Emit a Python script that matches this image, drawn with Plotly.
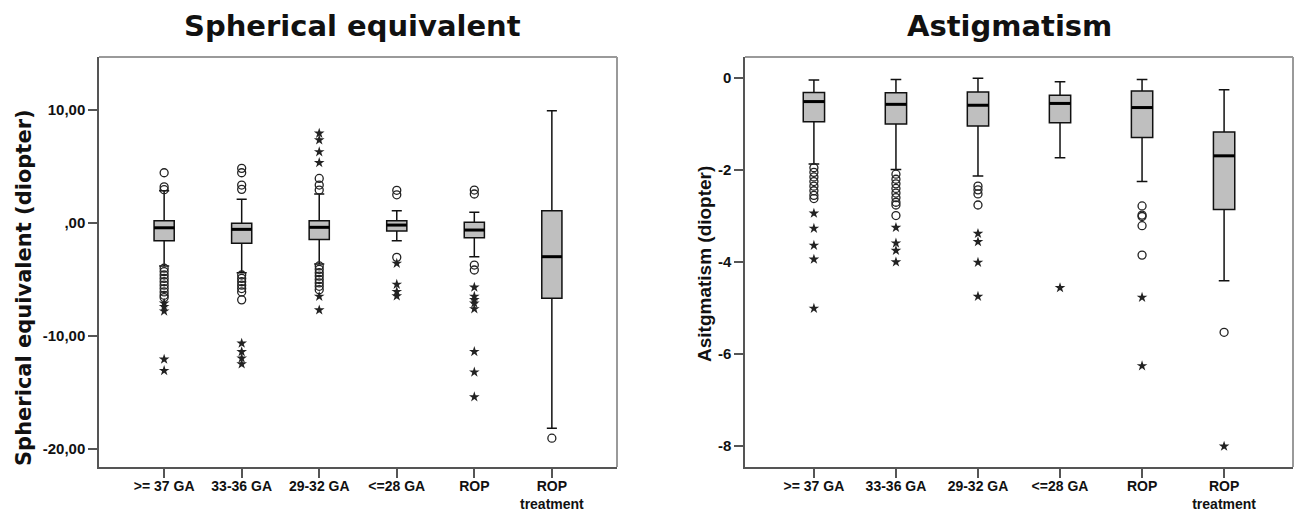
import plotly.graph_objects as go

# Group labels shared by both panels
groups = [">= 37 GA", "33-36 GA", "29-32 GA", "<=28 GA", "ROP", "ROP<br>treatment"]

# Spherical equivalent (diopter): box statistics per group
se_q1 = [-1.57, -1.80, -1.45, -0.71, -1.30, -6.67]
se_median = [-0.42, -0.56, -0.38, -0.18, -0.62, -2.98]
se_q3 = [0.20, -0.03, 0.20, 0.20, 0.06, 1.09]
se_low = [-3.80, -4.40, -3.63, -1.57, -2.98, -18.17]
se_high = [2.86, 2.10, 2.57, 1.09, 0.95, 9.94]

# Spherical equivalent outliers (circles) and extremes (stars) per group
se_outliers = [
    [4.45, 3.20, 2.95, -4.0, -4.3, -4.6, -4.9, -5.2, -5.5, -5.8, -6.1, -6.4, -6.6],
    [4.84, 4.45, 3.36, 2.98, -4.6, -4.9, -5.2, -5.5, -5.8, -6.1, -6.8],
    [3.95, 3.36, 2.92, -3.8, -4.1, -4.4, -4.7, -5.0, -5.3, -5.6, -5.9],
    [2.90, 2.50, -3.04],
    [2.92, 2.57, -3.72, -4.16],
    [-19.05],
]
se_extremes = [
    [-7.1, -7.4, -7.8, -12.06, -13.07],
    [-10.65, -11.40, -11.97, -12.48],
    [7.94, 7.35, 6.30, 5.34, -6.5, -7.7],
    [-3.57, -5.43, -6.08, -6.46],
    [-5.69, -6.5, -6.8, -7.1, -7.6, -11.39, -13.2, -15.4],
    [],
]

# Astigmatism (diopter): box statistics per group
as_q1 = [-0.95, -1.00, -1.04, -0.97, -1.29, -2.86]
as_median = [-0.51, -0.57, -0.59, -0.55, -0.64, -1.69]
as_q3 = [-0.31, -0.32, -0.30, -0.37, -0.28, -1.17]
as_low = [-1.87, -1.99, -2.13, -1.73, -2.25, -4.41]
as_high = [-0.04, -0.03, 0.0, -0.08, -0.03, -0.25]

as_outliers = [
    [-1.95, -2.05, -2.15, -2.25, -2.35, -2.45, -2.55, -2.62],
    [-2.09, -2.20, -2.30, -2.40, -2.50, -2.60, -2.70, -2.76, -2.99],
    [-2.35, -2.43, -2.52, -2.76],
    [],
    [-2.78, -2.98, -3.01, -3.21, -3.85],
    [-5.53],
]
as_extremes = [
    [-2.94, -3.27, -3.64, -3.94, -5.01],
    [-3.25, -3.59, -3.75, -4.00],
    [-3.38, -3.56, -4.01, -4.75],
    [-4.56],
    [-4.77, -6.26],
    [-8.01],
]

BOX_W = 0.26
FILL = "#bfbfbf"
pos = list(range(len(groups)))

fig = go.Figure()


def add_panel(q1, med, q3, lo, hi, outliers, extremes, xa, ya):
    fig.add_trace(go.Box(
        x=pos, q1=q1, median=med, q3=q3, lowerfence=lo, upperfence=hi,
        width=BOX_W, whiskerwidth=0.5, boxpoints=False,
        fillcolor=FILL, line=dict(color="#111111", width=1.5),
        xaxis=xa, yaxis=ya, showlegend=False, hoverinfo="skip",
    ))
    # thick median bars
    mx, my = [], []
    for i, m in zip(pos, med):
        mx += [i - BOX_W / 2, i + BOX_W / 2, None]
        my += [m, m, None]
    fig.add_trace(go.Scatter(
        x=mx, y=my, mode="lines", line=dict(color="#000000", width=3),
        xaxis=xa, yaxis=ya, showlegend=False, hoverinfo="skip",
    ))
    ox, oy = [], []
    for i, vals in zip(pos, outliers):
        ox += [i] * len(vals)
        oy += vals
    fig.add_trace(go.Scatter(
        x=ox, y=oy, mode="markers",
        marker=dict(symbol="circle-open", size=8, color="#222222",
                    line=dict(width=1.3, color="#222222")),
        xaxis=xa, yaxis=ya, showlegend=False, hoverinfo="skip",
    ))
    ex, ey = [], []
    for i, vals in zip(pos, extremes):
        ex += [i] * len(vals)
        ey += vals
    fig.add_trace(go.Scatter(
        x=ex, y=ey, mode="markers",
        marker=dict(symbol="star", size=8, color="#222222", line=dict(width=0)),
        xaxis=xa, yaxis=ya, showlegend=False, hoverinfo="skip",
    ))


add_panel(se_q1, se_median, se_q3, se_low, se_high, se_outliers, se_extremes, "x", "y")
add_panel(as_q1, as_median, as_q3, as_low, as_high, as_outliers, as_extremes, "x2", "y2")

W, H = 1295, 512
y_dom = [1 - 467 / H, 1 - 57 / H]
axis_font = dict(family="Liberation Sans, Arial, sans-serif", size=15, color="#111111", weight="bold")
xtick_font = dict(family="Liberation Sans, Arial, sans-serif", size=14, color="#111111", weight="bold")
common_x = dict(
    range=[-0.84, 5.84], tickmode="array", tickvals=pos, ticktext=groups,
    showline=True, linecolor="#555555", linewidth=1.5, ticks="outside",
    ticklen=9, tickcolor="#555555", tickwidth=1.5, showgrid=False, zeroline=False,
    tickfont=xtick_font, fixedrange=True, ticklabelstandoff=-4, automargin=False,
)
common_y = dict(
    showline=True, linecolor="#555555", linewidth=1.5, ticks="outside",
    ticklen=9, tickcolor="#555555", tickwidth=1.5, showgrid=False, zeroline=False,
    tickfont=axis_font, fixedrange=True, automargin=False,
)

fig.update_layout(
    width=W, height=H, margin=dict(l=0, r=0, t=0, b=0),
    paper_bgcolor="white", plot_bgcolor="white",
    xaxis=dict(domain=[99 / W, 617 / W], anchor="y", **common_x),
    yaxis=dict(domain=y_dom, anchor="x", range=[-21.6, 14.7],
               tickvals=[10, 0, -10, -20], ticktext=["10,00", ",00", "-10,00", "-20,00"],
               **common_y),
    xaxis2=dict(domain=[745 / W, 1293 / W], anchor="y2", **common_x),
    yaxis2=dict(domain=y_dom, anchor="x2", range=[-8.46, 0.46],
                tickvals=[0, -2, -4, -6, -8], ticktext=["0", "-2", "-4", "-6", "-8"],
                **common_y),
)

# light frame on top and right of each plot area
for xd, yd in (("x domain", "y domain"), ("x2 domain", "y2 domain")):
    fig.add_shape(type="line", xref=xd, yref=yd, x0=0, x1=1, y0=1, y1=1,
                  line=dict(color="#9a9a9a", width=2))
    fig.add_shape(type="line", xref=xd, yref=yd, x0=1, x1=1, y0=0, y1=1,
                  line=dict(color="#9a9a9a", width=2))

title_font = dict(family="DejaVu Sans, sans-serif", size=29, color="#111111", weight="bold")
fig.add_annotation(text="Spherical equivalent", xref="paper", yref="paper",
                   x=352 / W, y=1 - 26 / H, xanchor="center", yanchor="middle",
                   showarrow=False, font=title_font)
fig.add_annotation(text="Astigmatism", xref="paper", yref="paper",
                   x=1009 / W, y=1 - 26 / H, xanchor="center", yanchor="middle",
                   showarrow=False, font=title_font)

fig.add_annotation(text="Spherical equivalent (diopter)", xref="paper", yref="paper",
                   x=24 / W, y=1 - 288 / H, xanchor="center", yanchor="middle",
                   textangle=-90, showarrow=False,
                   font=dict(family="DejaVu Sans, sans-serif", size=21, color="#111111", weight="bold"))
fig.add_annotation(text="Asitgmatism (diopter)", xref="paper", yref="paper",
                   x=704 / W, y=1 - 264 / H, xanchor="center", yanchor="middle",
                   textangle=-90, showarrow=False,
                   font=dict(family="Liberation Sans, Arial, sans-serif", size=19, color="#111111", weight="bold"))

fig.write_html("out.html")
